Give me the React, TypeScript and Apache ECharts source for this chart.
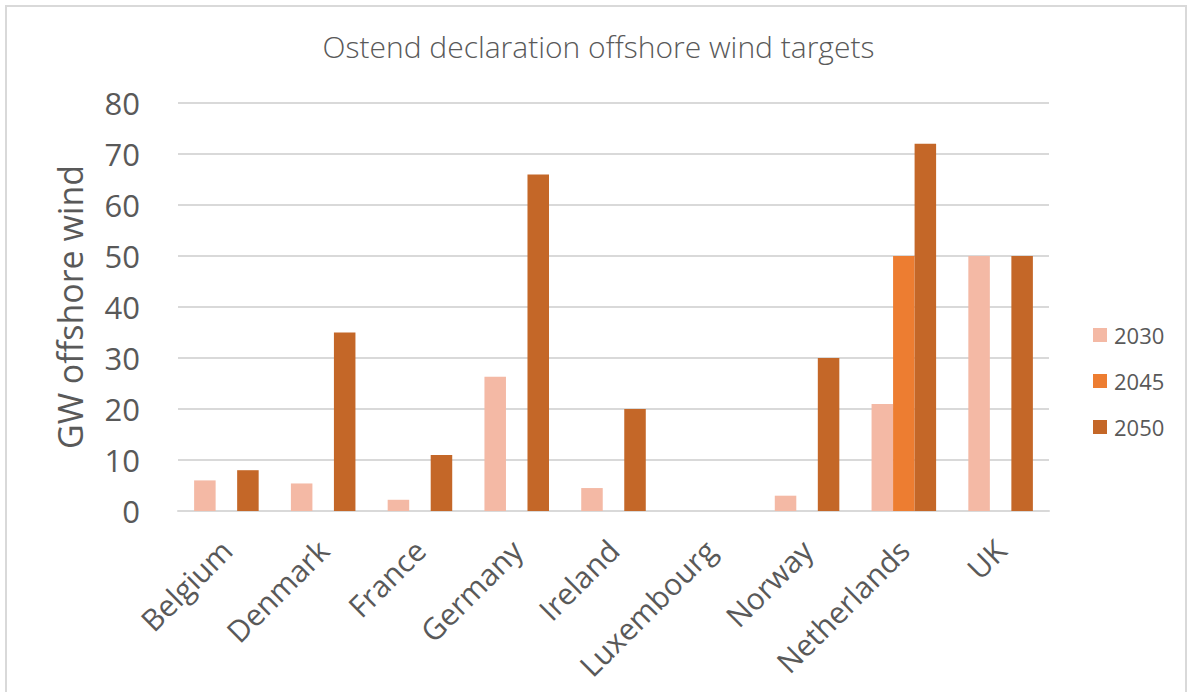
import React, { useEffect, useRef } from "react";
import * as echarts from "echarts";

const countries = [
  "Belgium",
  "Denmark",
  "France",
  "Germany",
  "Ireland",
  "Luxembourg",
  "Norway",
  "Netherlands",
  "UK",
];
const target2030 = [6, 5.4, 2.2, 26.3, 4.5, 0, 3, 21, 50];
const target2045 = [0, 0, 0, 0, 0, 0, 0, 50, 0];
const target2050 = [8, 35, 11, 66, 20, 0, 30, 72, 50];
const yTicks = { min: 0, max: 80, interval: 10 };

const FONT = "'Open Sans', 'Noto Sans', sans-serif";
const TEXT = "#595959";
const GRID = "#d9d9d9";

export default function App() {
  const ref = useRef<HTMLDivElement>(null);

  useEffect(() => {
    if (!ref.current) return;
    const chart = echarts.init(ref.current, null, { renderer: "svg" });
    const bar = (name: string, data: number[], color: string) => ({
      name,
      type: "bar",
      data,
      barGap: "0%",
      barCategoryGap: "33.3%",
      itemStyle: { color },
    });
    chart.setOption({
      animation: false,
      backgroundColor: "#ffffff",
      textStyle: { fontFamily: FONT, color: TEXT },
      graphic: [
        {
          type: "rect",
          shape: { x: 6, y: 6, width: 1180, height: 720 },
          style: { fill: "none", stroke: GRID, lineWidth: 2 },
          silent: true,
          z: -1,
        },
      ],
      title: {
        text: "Ostend declaration offshore wind targets",
        left: "center",
        top: 26,
        textStyle: {
          fontFamily: FONT,
          fontSize: 30,
          fontWeight: 300,
          color: TEXT,
        },
      },
      legend: {
        orient: "vertical",
        left: 1088,
        top: 319,
        itemWidth: 14,
        itemHeight: 14,
        itemGap: 24,
        icon: "rect",
        textStyle: { fontFamily: FONT, fontSize: 22, color: TEXT, padding: [0, 0, 0, 2] },
        data: ["2030", "2045", "2050"],
      },
      grid: { left: 178, right: 148, top: 103, bottom: 181, containLabel: false },
      xAxis: {
        type: "category",
        data: countries,
        axisLine: { show: true, lineStyle: { color: GRID, width: 2 } },
        axisTick: { show: false },
        axisLabel: {
          rotate: 45,
          interval: 0,
          margin: 34,
          fontFamily: FONT,
          fontSize: 30,
          color: TEXT,
        },
      },
      yAxis: {
        type: "value",
        min: yTicks.min,
        max: yTicks.max,
        interval: yTicks.interval,
        name: "GW offshore wind",
        nameLocation: "middle",
        nameGap: 91,
        nameTextStyle: { fontFamily: FONT, fontSize: 34, color: TEXT },
        axisLine: { show: false },
        axisTick: { show: false },
        splitLine: { lineStyle: { color: GRID, width: 2 } },
        axisLabel: { margin: 38, fontFamily: FONT, fontSize: 31, color: TEXT },
      },
      series: [
        bar("2030", target2030, "#F4B9A5"),
        bar("2045", target2045, "#ED7D31"),
        bar("2050", target2050, "#C46728"),
      ],
    });
    return () => chart.dispose();
  }, []);

  return (
    <div
      ref={ref}
      style={{ position: "absolute", left: 0, top: 0, width: 1197, height: 692 }}
    />
  );
}
